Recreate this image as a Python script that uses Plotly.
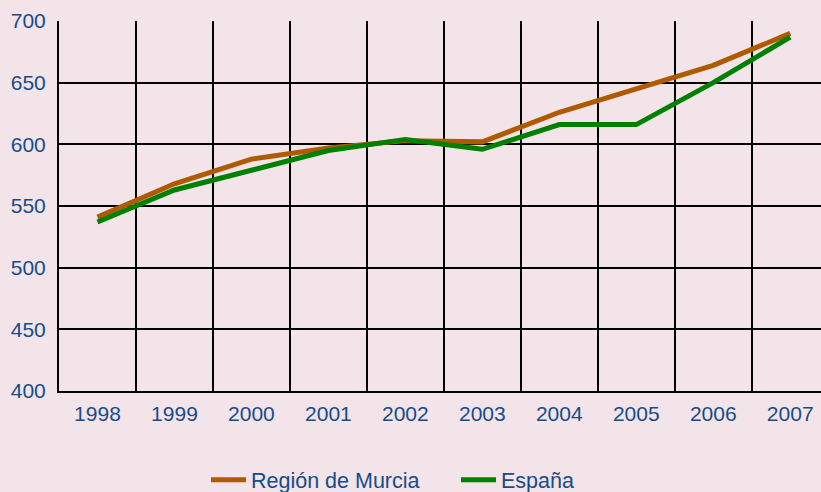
import plotly.graph_objects as go

years = ["1998", "1999", "2000", "2001", "2002", "2003", "2004", "2005", "2006", "2007"]
murcia = [541, 568, 588, 597, 603, 602, 626, 645, 664, 690]
espana = [537, 563, 579, 595, 604, 596, 616, 616, 650, 687]
y_ticks = [400, 450, 500, 550, 600, 650, 700]

BG = "#F2E4E8"
TXT = "#174C8A"

fig = go.Figure()
fig.add_trace(go.Scatter(x=years, y=murcia, mode="lines", name="Región de Murcia",
                         line=dict(color="#B05A00", width=5)))
fig.add_trace(go.Scatter(x=years, y=espana, mode="lines", name="España",
                         line=dict(color="#008000", width=5)))

fig.update_layout(
    width=821, height=492,
    margin=dict(l=59, r=0, t=21, b=101, autoexpand=False),
    paper_bgcolor=BG, plot_bgcolor=BG,
    font=dict(family="Liberation Sans, Arial, sans-serif", size=21, color=TXT),
    showlegend=True,
    legend=dict(orientation="h", x=0.521, xanchor="center", y=-0.24, yanchor="middle",
                bgcolor="rgba(0,0,0,0)", font=dict(size=21.5, color=TXT),
                itemwidth=35, entrywidth=200),
    xaxis=dict(type="category", range=[-0.5, 9.4], tickson="boundaries",
               showgrid=True, gridcolor="black", gridwidth=1.5,
               showline=True, linecolor="black", linewidth=2,
               ticks="", ticklabelstandoff=3, zeroline=False,
               tickfont=dict(size=21, color=TXT)),
    yaxis=dict(range=[400, 700], tickvals=y_ticks, ticktext=[str(v) for v in y_ticks],
               showgrid=True, gridcolor="black", gridwidth=1.5,
               showline=True, linecolor="black", linewidth=2,
               ticks="", ticklabelstandoff=7, zeroline=False,
               tickfont=dict(size=21, color=TXT)),
)

fig.write_html("out.html", config={"displayModeBar": False},
               post_script="document.body.style.margin='0';document.body.style.overflow='hidden';")
